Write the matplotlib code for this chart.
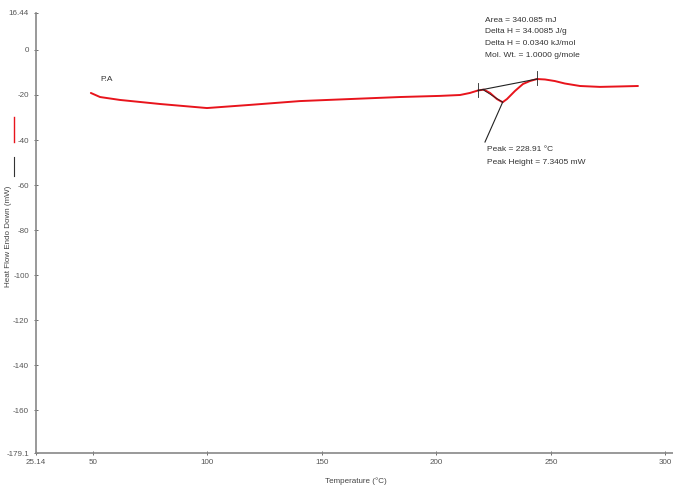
import numpy as np
import matplotlib.pyplot as plt
from matplotlib.lines import Line2D

plt.rcParams['font.family'] = ['Liberation Sans', 'DejaVu Sans']

# DSC scan: temperature (C) vs heat flow (mW)
temperature = [49.1, 53.1, 61.8, 79.3, 99.8, 118.6, 140.4, 162.2, 184.1, 201.5,
               210.3, 214.6, 218.1, 220.7, 223.4, 226.4, 228.91, 230.8, 234.3,
               237.8, 240.8, 243.9, 247.4, 251.7, 256.1, 262.7, 271.4, 280.1, 288.0]
heat_flow = [-19.1, -20.9, -22.2, -24.0, -25.8, -24.4, -22.7, -21.8, -20.9, -20.4,
             -20.0, -19.1, -18.0, -17.6, -19.1, -21.8, -23.21, -21.8, -18.2,
             -15.1, -13.8, -12.9, -13.1, -13.8, -14.9, -16.0, -16.4, -16.2, -16.0]

# peak integration limits and results
onset_t, onset_v = 218.1, -18.0
end_t, end_v = 243.9, -12.9
peak_t = 228.91
peak_height = 7.3405
results = ["Area = 340.085 mJ", "Delta H = 34.0085 J/g",
           "Delta H = 0.0340 kJ/mol", "Mol. Wt. = 1.0000 g/mole"]

x_ticks = [25.14, 50, 100, 150, 200, 250, 300]
x_labels = ["25.14", "50", "100", "150", "200", "250", "300"]
y_ticks = [16.44, 0, -20, -40, -60, -80, -100, -120, -140, -160, -179.1]
y_labels = ["16.44", "0", "-20", "-40", "-60", "-80", "-100", "-120", "-140", "-160", "-179.1"]

fig = plt.figure(figsize=(6.73, 4.86), dpi=100)
ax = fig.add_axes([36 / 673, 33 / 486, 1 - 36 / 673, 440 / 486])
ax.set_xlim(25.14, 303.3)
ax.set_ylim(-179.1, 16.44)

for s in ['top', 'right']:
    ax.spines[s].set_visible(False)
for s in ['left', 'bottom']:
    ax.spines[s].set_color('#888888')
    ax.spines[s].set_linewidth(1.2)

ax.set_xticks(x_ticks)
ax.set_xticklabels(x_labels)
ax.set_yticks(y_ticks)
ax.set_yticklabels(y_labels)
ax.tick_params(labelsize=5.8, colors='#555555', direction='inout', length=3, width=0.6)
ax.tick_params(axis='x', pad=3)

ax.plot(temperature, heat_flow, color='#e8141c', lw=1.4, solid_capstyle='round')

# baseline and limit markers
ax.plot([onset_t, end_t], [onset_v, end_v], color='#222222', lw=0.8)
ax.plot([onset_t, onset_t], [onset_v + 3.5, onset_v - 3.0], color='#222222', lw=0.6)
ax.plot([end_t, end_t], [end_v + 3.5, end_v - 2.5], color='#222222', lw=0.6)
peak_v = onset_v + (end_v - onset_v) * (peak_t - onset_t) / (end_t - onset_t) - peak_height
ax.plot([onset_t + 2.0, peak_t], [onset_v + 0.5, peak_v], color='#222222', lw=0.6)
ax.plot([peak_t, 221.2], [peak_v, -40.9], color='#222222', lw=0.8)

ax.text(53.1, -14.7, "P.A", fontsize=6, color='#333333', ha='left', va='bottom')
for i, line in enumerate(results):
    ax.text(221.2, 13.3 - i * 5.3, line, fontsize=6, color='#333333', va='center')
ax.text(222.0, -44.4, "Peak = %.2f \u00b0C" % peak_t, fontsize=6, color='#333333', va='center')
ax.text(222.0, -49.8, "Peak Height = %.4f mW" % peak_height, fontsize=6, color='#333333', va='center')

fig.text(356 / 673, 1 - 481 / 486, "Temperature (\u00b0C)", fontsize=5.8, color='#444444',
         ha='center', va='center')
fig.text(9 / 673, 1 - 236 / 486, "Heat Flow Endo Down (mW)", fontsize=5.8, color='#444444',
         rotation=90, ha='center', va='center')
fig.add_artist(Line2D([14 / 673, 14 / 673], [1 - 117 / 486, 1 - 142 / 486],
                      color='#e8141c', lw=1.0))
fig.add_artist(Line2D([14 / 673, 14 / 673], [1 - 157 / 486, 1 - 176 / 486],
                      color='#333333', lw=0.8))

fig.savefig("out.png", dpi=100)
